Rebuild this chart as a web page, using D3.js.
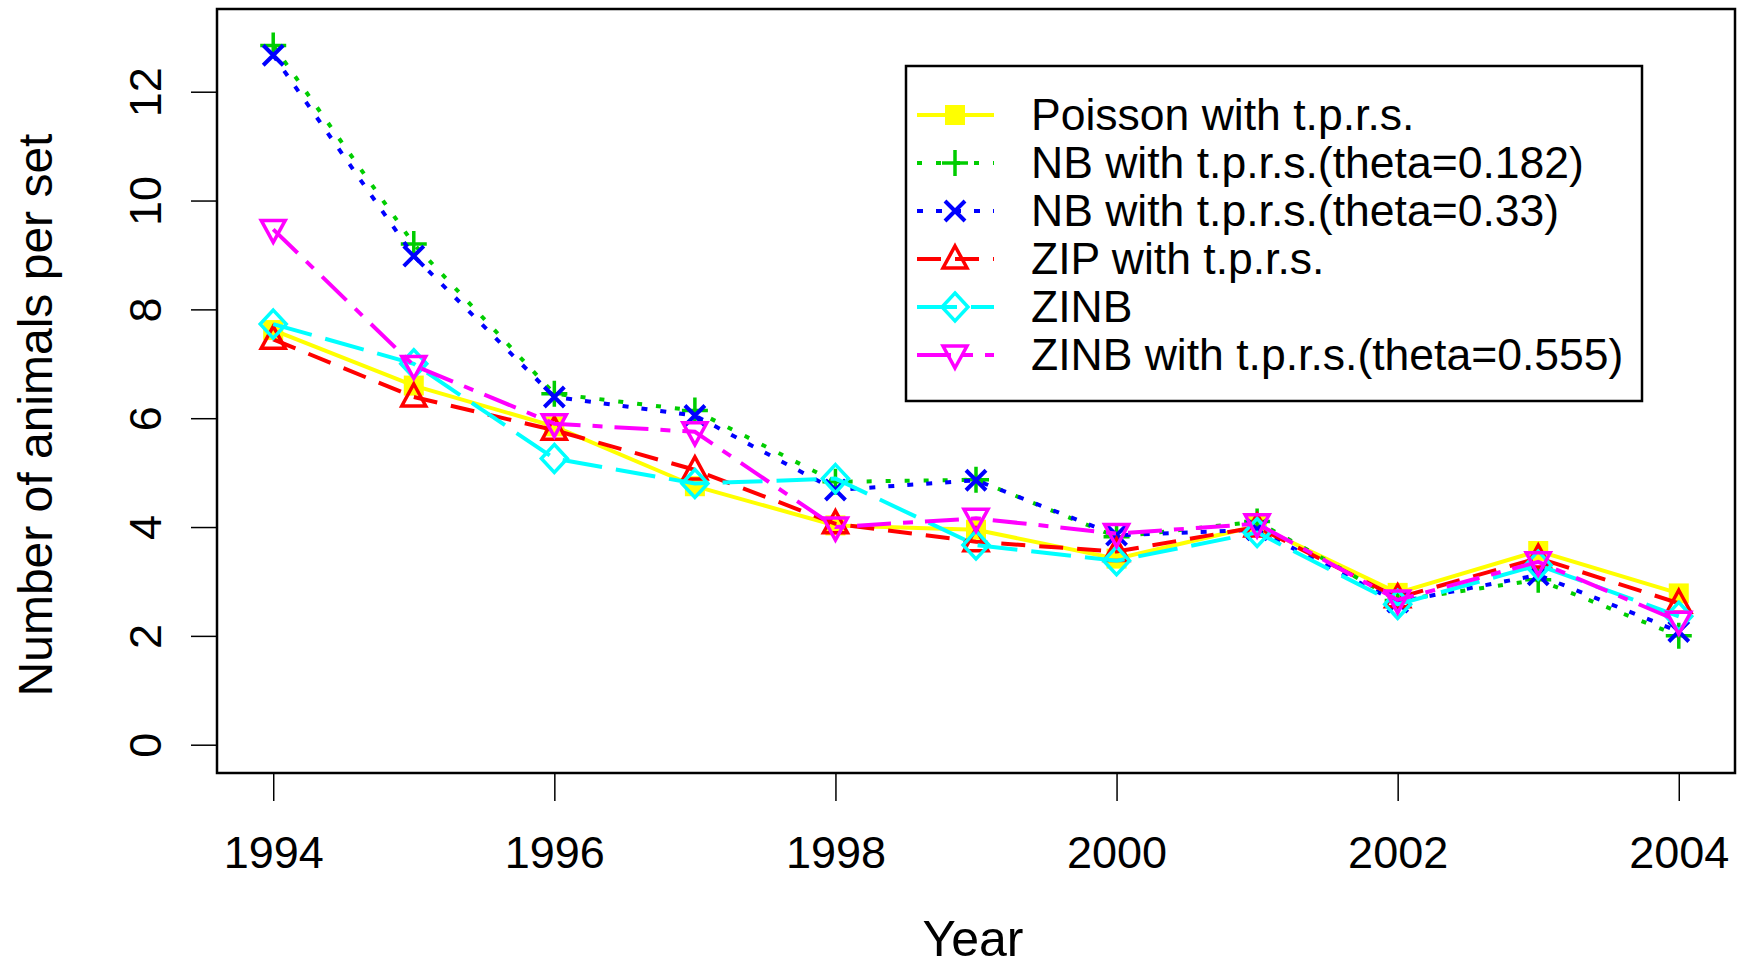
<!DOCTYPE html>
<html>
<head>
<meta charset="utf-8">
<script src="https://cdn.jsdelivr.net/npm/d3@7"></script>
<style>
  html, body { margin: 0; padding: 0; background: #fff; }
  svg text { font-family: "Liberation Sans", Arial, sans-serif; fill: #000; }
</style>
</head>
<body>
<svg id="chart" width="1744" height="968"></svg>
<script>
// data
const years = [1994, 1995, 1996, 1997, 1998, 1999, 2000, 2001, 2002, 2003, 2004];
const poisson  = [7.62, 6.60, 5.85, 4.75, 4.03, 3.95, 3.42, 4.02, 2.79, 3.56, 2.78];
const nb182    = [12.85, 9.20, 6.45, 6.14, 4.83, 4.87, 3.82, 4.10, 2.65, 3.03, 2.00];
const nb033    = [12.67, 8.98, 6.39, 6.05, 4.68, 4.86, 3.85, 3.95, 2.62, 3.12, 2.08];
const zip      = [7.45, 6.39, 5.78, 5.05, 4.06, 3.73, 3.55, 4.00, 2.70, 3.43, 2.60];
const zinb     = [7.73, 7.00, 5.26, 4.80, 4.89, 3.67, 3.38, 3.90, 2.58, 3.30, 2.36];
const zinbTprs = [9.47, 6.97, 5.90, 5.75, 4.00, 4.16, 3.88, 4.06, 2.66, 3.36, 2.27];

const seriesNames = ["Poisson with t.p.r.s.", "NB with t.p.r.s.(theta=0.182)", "NB with t.p.r.s.(theta=0.33)",
                     "ZIP with t.p.r.s.", "ZINB", "ZINB with t.p.r.s.(theta=0.555)"];
const xTicks = [1994, 1996, 1998, 2000, 2002, 2004];
const yTicks = [0, 2, 4, 6, 8, 10, 12];

// styling, in R's draw order
const series = [
  {name: seriesNames[0], values: poisson,  color: "#FFFF00", dash: null,            pch: "square"},
  {name: seriesNames[1], values: nb182,    color: "#00CD00", dash: "5,14",          pch: "plus"},
  {name: seriesNames[2], values: nb033,    color: "#0000FF", dash: "6,13",          pch: "cross"},
  {name: seriesNames[3], values: zip,      color: "#FF0000", dash: "24,14",         pch: "triUp"},
  {name: seriesNames[4], values: zinb,     color: "#00FFFF", dash: "40,14",         pch: "diamond"},
  {name: seriesNames[5], values: zinbTprs, color: "#FF00FF", dash: "34,12,10,12",   pch: "triDown"}
];

const svg = d3.select("#chart");
const plotLeft = 217, plotRight = 1735, plotTop = 9, plotBottom = 773;

const x = d3.scaleLinear().domain([1993.6, 2004.4]).range([plotLeft, plotRight]);
const y = d3.scaleLinear().domain([-0.52, 13.52]).range([plotBottom, plotTop]);

// axes
const xAxis = svg.append("g")
  .attr("transform", "translate(0," + plotBottom + ")")
  .call(d3.axisBottom(x).tickValues(xTicks).tickSize(28).tickFormat(d3.format("d")));
xAxis.select(".domain").remove();
xAxis.selectAll("line").attr("stroke", "#000").attr("stroke-width", 1.5);
xAxis.selectAll("text")
  .attr("y", 95).attr("dy", 0)
  .attr("font-size", 45)
  .style("font-family", "'Liberation Sans', Arial, sans-serif")
  .attr("fill", "#000");

const yAxis = svg.append("g")
  .attr("transform", "translate(" + plotLeft + ",0)")
  .call(d3.axisLeft(y).tickValues(yTicks).tickSize(26));
yAxis.select(".domain").remove();
yAxis.selectAll("line").attr("stroke", "#000").attr("stroke-width", 1.5);
yAxis.selectAll("text")
  .attr("x", 0).attr("dy", 0)
  .attr("text-anchor", "middle")
  .attr("transform", "translate(-56,0) rotate(-90)")
  .attr("font-size", 45)
  .style("font-family", "'Liberation Sans', Arial, sans-serif")
  .attr("fill", "#000");

// plot box
svg.append("rect")
  .attr("x", plotLeft).attr("y", plotTop)
  .attr("width", plotRight - plotLeft).attr("height", plotBottom - plotTop)
  .attr("fill", "none").attr("stroke", "#000").attr("stroke-width", 2.5);

// axis titles
svg.append("text")
  .attr("x", 973).attr("y", 956)
  .attr("text-anchor", "middle")
  .attr("font-size", 50)
  .text("Year");

svg.append("text")
  .attr("transform", "translate(52,415) rotate(-90)")
  .attr("text-anchor", "middle")
  .attr("font-size", 48)
  .text("Number of animals per set");

// marker shapes
function drawMarker(g, kind, color) {
  const sw = 3.5;
  if (kind === "square") {
    g.append("rect").attr("x", -10).attr("y", -10).attr("width", 20).attr("height", 20)
      .attr("fill", color);
  } else if (kind === "plus") {
    g.append("path").attr("d", "M-13,0H13M0,-13V13")
      .attr("stroke", color).attr("stroke-width", sw).attr("fill", "none");
  } else if (kind === "cross") {
    g.append("path").attr("d", "M-10,-10L10,10M-10,10L10,-10")
      .attr("stroke", color).attr("stroke-width", sw + 0.5).attr("fill", "none");
  } else if (kind === "triUp") {
    g.append("path").attr("d", "M0,-13L12,9H-12Z")
      .attr("stroke", color).attr("stroke-width", sw).attr("fill", "none");
  } else if (kind === "triDown") {
    g.append("path").attr("d", "M0,13L12,-9H-12Z")
      .attr("stroke", color).attr("stroke-width", sw).attr("fill", "none");
  } else if (kind === "diamond") {
    g.append("path").attr("d", "M0,-14L13,0L0,14L-13,0Z")
      .attr("stroke", color).attr("stroke-width", sw).attr("fill", "none");
  }
}

const line = d3.line()
  .x((d, i) => x(years[i]))
  .y(d => y(d));

series.forEach(s => {
  const g = svg.append("g").attr("class", "series");
  g.append("path")
    .datum(s.values)
    .attr("d", line)
    .attr("fill", "none")
    .attr("stroke", s.color)
    .attr("stroke-width", 4)
    .attr("stroke-dasharray", s.dash);
  g.selectAll("g.pt")
    .data(s.values)
    .enter().append("g")
    .attr("class", "pt")
    .attr("transform", (d, i) => "translate(" + x(years[i]) + "," + y(d) + ")")
    .each(function() { drawMarker(d3.select(this), s.pch, s.color); });
});

// legend
const legend = svg.append("g");
legend.append("rect")
  .attr("x", 906).attr("y", 66).attr("width", 736).attr("height", 335)
  .attr("fill", "#fff").attr("stroke", "#000").attr("stroke-width", 2.5);

const rowY = d3.scalePoint().domain(seriesNames).range([115, 355]);
series.forEach(s => {
  const cy = rowY(s.name);
  legend.append("line")
    .attr("x1", 917).attr("x2", 994).attr("y1", cy).attr("y2", cy)
    .attr("stroke", s.color).attr("stroke-width", 4)
    .attr("stroke-dasharray", s.dash);
  drawMarker(legend.append("g").attr("transform", "translate(955," + cy + ")"), s.pch, s.color);
  legend.append("text")
    .attr("x", 1031).attr("y", cy + 15)
    .attr("font-size", 44.5)
    .text(s.name);
});
</script>
</body>
</html>
